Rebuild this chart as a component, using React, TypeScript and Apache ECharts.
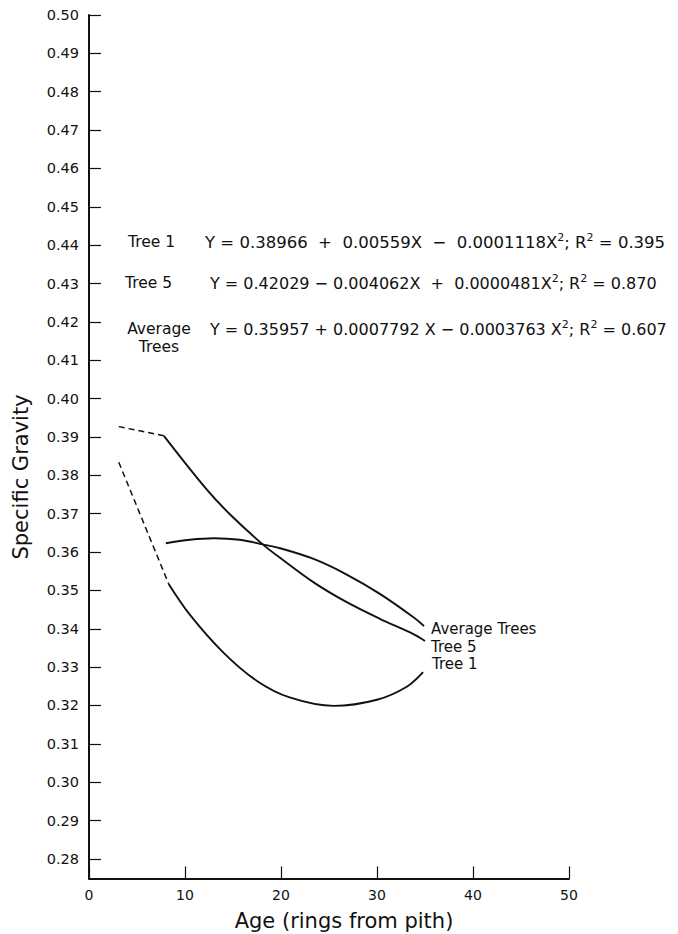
import React, { useEffect, useRef } from "react";
import * as echarts from "echarts";

// ---- data ----
const tree1DashX = [3.1, 8.3];
const tree1DashY = [0.3834, 0.3517];
const tree1X = [8.3, 10.5, 14.0, 17.5, 20.9, 25.5, 30.0, 33.1, 34.8];
const tree1Y = [0.3517, 0.3437, 0.3338, 0.3264, 0.3221, 0.3199, 0.3215, 0.3249, 0.3287];

const tree5DashX = [3.1, 7.8];
const tree5DashY = [0.3927, 0.3903];
const tree5X = [7.8, 12.3, 14.7, 18.1, 19.9, 23.4, 26.8, 30.3, 33.8, 35.0];
const tree5Y = [0.3903, 0.3762, 0.3698, 0.362, 0.3585, 0.3521, 0.347, 0.3426, 0.3386, 0.3368];

const avgX = [8.0, 10.5, 13.0, 15.7, 18.1, 19.9, 23.4, 26.8, 30.3, 33.8, 34.9];
const avgY = [0.3623, 0.3632, 0.3636, 0.3632, 0.362, 0.361, 0.3582, 0.3542, 0.3491, 0.343, 0.3407];

const yTicks = [
  0.28, 0.29, 0.3, 0.31, 0.32, 0.33, 0.34, 0.35, 0.36, 0.37, 0.38, 0.39,
  0.4, 0.41, 0.42, 0.43, 0.44, 0.45, 0.46, 0.47, 0.48, 0.49, 0.5,
];
const xMin = 0;
const xMax = 50;
const xStep = 10;
const yMin = 0.2749;
const yMax = 0.5;

const seriesNames = ["Tree 1", "Tree 5", "Average Trees"];
const equations = [
  "Y = 0.38966  +  0.00559X  −  0.0001118X{sup|2}; R{sup|2} = 0.395",
  "Y = 0.42029 − 0.004062X  +  0.0000481X{sup|2}; R{sup|2} = 0.870",
  "Y = 0.35957 + 0.0007792 X − 0.0003763 X{sup|2}; R{sup|2} = 0.607",
];
const xAxisTitle = "Age (rings from pith)";
const yAxisTitle = "Specific Gravity";

const zip = (xs: number[], ys: number[]) => xs.map((x, i) => [x, ys[i]]);

const FONT = "DejaVu Sans";
const INK = "#111";

export default function App() {
  const ref = useRef<HTMLDivElement>(null);
  useEffect(() => {
    document.body.style.margin = "0";
    if (!ref.current) return;
    const chart = echarts.init(ref.current, undefined, { renderer: "svg" });
    const solid = { color: INK, width: 1.9, type: "solid" as const };
    const dashed = { color: INK, width: 1.5, type: [6, 4] as any };
    const txt = (text: string, x: number, y: number, size: number, align = "left", extra: any = {}, styleExtra: any = {}) => ({
      type: "text",
      x,
      y,
      ...extra,
      style: {
        text,
        fontSize: size,
        fontFamily: FONT,
        fill: INK,
        align,
        textAlign: align,
        verticalAlign: "middle",
        textVerticalAlign: "middle",
        ...styleExtra,
      },
    });
    const eqStyle = {
      lineHeight: 20,
      rich: {
        sup: { fontSize: 11, fontFamily: FONT, fill: INK, verticalAlign: "top", lineHeight: 13 },
      },
    };
    chart.setOption({
      animation: false,
      grid: { left: 89, top: 15, width: 480, height: 863.5, containLabel: false },
      xAxis: {
        type: "value",
        min: xMin,
        max: xMax,
        interval: xStep,
        axisLine: { show: true, lineStyle: { color: INK, width: 2 } },
        axisTick: { show: true, inside: true, length: 12, lineStyle: { color: INK, width: 1.2 } },
        axisLabel: { margin: 9, fontSize: 14, fontFamily: FONT, color: INK },
        splitLine: { show: false },
      },
      yAxis: {
        type: "value",
        min: yMin,
        max: yMax,
        axisLine: { show: true, lineStyle: { color: INK, width: 2 } },
        axisTick: {
          show: true,
          inside: true,
          length: 12,
          customValues: yTicks,
          lineStyle: { color: INK, width: 1.2 },
        },
        axisLabel: {
          margin: 10,
          fontSize: 14.5,
          fontFamily: FONT,
          color: INK,
          customValues: yTicks,
          formatter: (v: number) => v.toFixed(2),
        },
        splitLine: { show: false },
      },
      series: [
        { type: "line", name: "Tree 1 dashed", data: zip(tree1DashX, tree1DashY), showSymbol: false, lineStyle: dashed },
        { type: "line", name: seriesNames[0], data: zip(tree1X, tree1Y), smooth: 0.35, showSymbol: false, lineStyle: solid },
        { type: "line", name: "Tree 5 dashed", data: zip(tree5DashX, tree5DashY), showSymbol: false, lineStyle: dashed },
        { type: "line", name: seriesNames[1], data: zip(tree5X, tree5Y), smooth: 0.35, showSymbol: false, lineStyle: solid },
        { type: "line", name: seriesNames[2], data: zip(avgX, avgY), smooth: 0.35, showSymbol: false, lineStyle: solid },
      ],
      graphic: [
        txt(xAxisTitle, 344, 921, 21, "center"),
        txt(yAxisTitle, 21, 477, 21, "center", { rotation: Math.PI / 2 }),
        txt(seriesNames[0], 128, 242, 15.5),
        txt(equations[0], 205, 242, 16.5, "left", {}, eqStyle),
        txt(seriesNames[1], 125, 283, 15.5),
        txt(equations[1], 210, 283, 16, "left", {}, eqStyle),
        txt("Average", 159, 329, 15.5, "center"),
        txt("Trees", 159, 347, 15.5, "center"),
        txt(equations[2], 210, 329, 16, "left", {}, eqStyle),
        txt(seriesNames[2], 431, 629, 15),
        txt(seriesNames[1], 431, 646.5, 15),
        txt(seriesNames[0], 432, 664, 15),
      ],
    });
    return () => chart.dispose();
  }, []);
  return <div ref={ref} style={{ width: 678, height: 934 }} />;
}
